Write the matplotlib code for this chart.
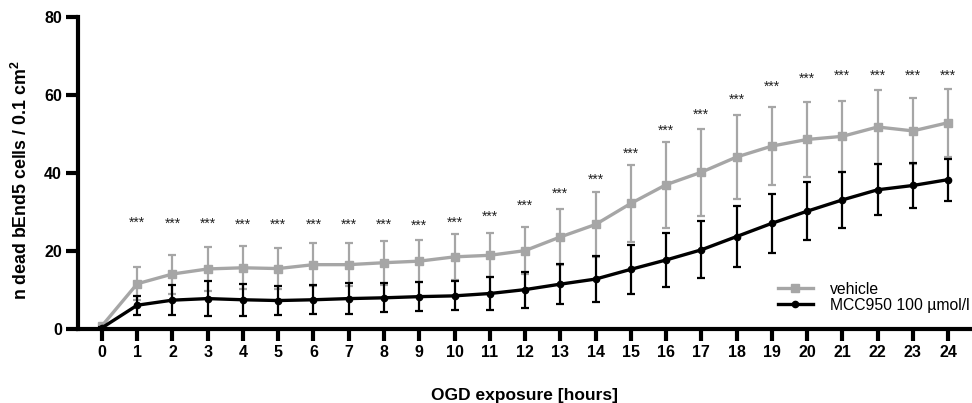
import numpy as np
import matplotlib
matplotlib.use("Agg")
import matplotlib.pyplot as plt

# ---------------------------------------------------------
# DATA
# ---------------------------------------------------------
hours = list(range(0, 25))

vehicle_mean = [0.8, 11.6, 14.1, 15.4, 15.7, 15.5, 16.5, 16.5, 17.0, 17.4, 18.5, 18.9, 20.1,
                23.6, 26.8, 32.2, 37.0, 40.2, 44.1, 46.9, 48.6, 49.4, 51.8, 50.8, 52.9]
vehicle_err = [0.3, 4.2, 5.0, 5.6, 5.5, 5.3, 5.5, 5.5, 5.6, 5.4, 5.9, 5.6, 6.0,
               7.1, 8.3, 9.9, 11.0, 11.2, 10.8, 10.0, 9.6, 9.1, 9.4, 8.4, 8.7]

mcc_mean = [0.3, 6.1, 7.4, 7.8, 7.5, 7.3, 7.5, 7.8, 8.0, 8.3, 8.5, 9.1, 10.1,
            11.5, 12.8, 15.3, 17.7, 20.3, 23.7, 27.1, 30.2, 33.1, 35.7, 36.8, 38.3]
mcc_err = [0.3, 2.4, 3.8, 4.5, 4.1, 3.8, 3.7, 3.9, 3.7, 3.8, 3.7, 4.2, 4.6,
           5.2, 5.8, 6.3, 7.0, 7.3, 7.8, 7.6, 7.4, 7.1, 6.5, 5.7, 5.4]

# significance marks (hour, height)
star_hours = list(range(1, 25))
star_y = [27.2, 27.0, 27.0, 26.8, 26.8, 26.8, 26.6, 26.6, 26.4, 27.2, 28.9, 31.5,
          34.8, 38.2, 44.9, 50.8, 54.9, 58.9, 62.2, 64.2, 65.0, 65.0, 65.0, 65.0]
star_label = "***"

y_ticks = [0, 20, 40, 60, 80]

GRAY = "#a6a6a6"
BLACK = "#000000"

plt.rcParams["font.family"] = ["Liberation Sans", "DejaVu Sans"]
plt.rcParams["mathtext.fontset"] = "custom"
plt.rcParams["mathtext.bf"] = "Liberation Sans:bold"
plt.rcParams["mathtext.rm"] = "Liberation Sans"

fig = plt.figure(figsize=(9.72, 4.03), dpi=100)
ax = fig.add_axes([0.0802, 0.1836, 0.9188, 0.7742])

eb_veh = ax.errorbar(hours, vehicle_mean, yerr=vehicle_err, color=GRAY, ecolor=GRAY,
                     linewidth=2.4, elinewidth=1.6, capsize=3, capthick=1.6,
                     marker="s", markersize=5.5, label="vehicle", zorder=2)
eb_mcc = ax.errorbar(hours, mcc_mean, yerr=mcc_err, color=BLACK, ecolor=BLACK,
                     linewidth=2.4, elinewidth=1.6, capsize=3, capthick=1.6,
                     marker="o", markersize=4.5, label="MCC950 100 µmol/l", zorder=3)

for h, y in zip(star_hours, star_y):
    ax.text(h, y, star_label, ha="center", va="center", fontsize=10, color="#222222")

ax.set_xlim(-0.68, 24.65)
ax.set_ylim(0, 80)
ax.set_xticks(hours)
ax.set_yticks(y_ticks)
ax.tick_params(axis="both", width=3, length=8.5, labelsize=11.5, pad=3)
for lbl in ax.get_xticklabels() + ax.get_yticklabels():
    lbl.set_fontweight("bold")

for side in ["top", "right"]:
    ax.spines[side].set_visible(False)
for side in ["left", "bottom"]:
    ax.spines[side].set_linewidth(3)

ax.set_xlabel("OGD exposure [hours]", fontsize=12.5, fontweight="bold")
ax.set_ylabel("n dead bEnd5 cells / 0.1 cm$^{\\mathbf{2}}$", fontsize=12.8, fontweight="bold")
ax.xaxis.set_label_coords(0.5, -0.189)
ax.yaxis.set_label_coords(-0.053, 0.478)

leg = ax.legend(handles=[eb_veh[0], eb_mcc[0]], labels=["vehicle", "MCC950 100 µmol/l"],
                loc="center left", bbox_to_anchor=(0.784, 0.102), frameon=False,
                fontsize=11.3, handlelength=2.2, handletextpad=1.1,
                labelspacing=0.05, borderpad=0, borderaxespad=0)

fig.savefig("out.png", dpi=100)
